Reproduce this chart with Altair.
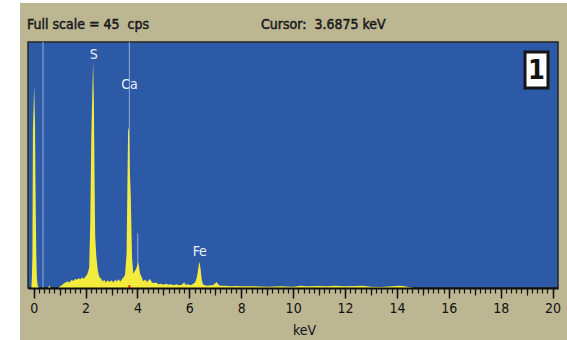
import altair as alt
import pandas as pd

# ---- data ----
energy = [-0.22, -0.09, -0.07, -0.05, -0.03, 0.0, 0.02, 0.05, 0.07, 0.1, 0.12, 0.15, 0.2,
          0.55, 0.6, 0.65, 0.95, 1.02, 1.08, 1.15, 1.22, 1.3, 1.38, 1.46, 1.53, 1.6, 1.66,
          1.73, 1.8, 1.86, 1.93, 2.0, 2.05, 2.1, 2.14, 2.18, 2.22, 2.26, 2.29, 2.32, 2.35,
          2.37, 2.41, 2.47, 2.53, 2.6, 2.66, 2.72, 2.78, 2.85, 2.92, 3.0, 3.07, 3.14, 3.2,
          3.27, 3.34, 3.4, 3.46, 3.52, 3.58, 3.62, 3.64, 3.67, 3.7, 3.74, 3.79, 3.84, 3.91,
          3.97, 4.03, 4.1, 4.16, 4.22, 4.3, 4.38, 4.45, 4.5, 4.56, 4.63, 4.72, 4.8, 4.9,
          5.0, 5.1, 5.2, 5.3, 5.4, 5.5, 5.6, 5.7, 5.8, 5.86, 5.95, 6.05, 6.15, 6.22, 6.28,
          6.32, 6.36, 6.39, 6.43, 6.47, 6.52, 6.6, 6.7, 6.8, 6.9, 6.98, 7.05, 7.12, 7.2,
          7.4, 7.6, 7.8, 8.0, 8.5, 9.0, 9.5, 10.0, 10.3, 10.5, 11.0, 11.3, 11.6, 12.0,
          12.4, 12.7, 13.0, 13.4, 13.8, 14.1, 14.3, 14.5, 14.7, 20.21]
counts = [0, 0, 2, 6, 29, 34, 37, 30, 18, 6, 2, 0.5, 0,
          0, 0.5, 0, 0, 0.3, 0.5, 0.8, 1.0, 1.2, 1.0, 1.5, 1.3, 1.7, 1.5,
          1.8, 1.6, 1.9, 1.7, 2.1, 2.4, 3.0, 3.8, 12, 27.6, 36, 41.5, 34, 18,
          9.5, 6, 3.2, 2.0, 1.7, 1.2, 1.5, 1.0, 1.4, 1.1, 1.4, 1.0, 1.5, 1.2,
          1.6, 1.2, 1.6, 1.9, 2.4, 6.2, 22, 29.4, 28.8, 22, 17, 5.6, 2.6, 3.2,
          3.8, 4.7, 2.6, 2.0, 1.3, 1.5, 1.1, 1.6, 1.5, 1.0, 0.9, 1.0, 0.7, 0.8,
          0.6, 0.8, 0.6, 0.7, 0.5, 0.7, 0.5, 0.6, 1.0, 0.6, 0.7, 0.5, 0.8, 1.0, 1.8,
          2.8, 4.2, 4.8, 3.6, 1.8, 0.7, 0.5, 0.4, 0.5, 0.5, 0.8, 1.1, 0.6, 0.4,
          0.4, 0.3, 0.35, 0.3, 0.3, 0.25, 0.3, 0.25, 0.4, 0.3, 0.35, 0.3, 0.4, 0.3,
          0.35, 0.4, 0.25, 0.2, 0.3, 0.4, 0.3, 0.15, 0, 0]

marker_full = [0.36, 3.6875]
kb_marker_e = [4.01]
kb_marker_top = [10.0]
cursor_e = [3.6875]

elements = ["S", "Ca", "Fe"]
elem_e = [2.31, 3.69, 6.40]
elem_y = [42.7, 37.2, 6.55]

major_ticks = list(range(0, 21, 2))
odd_ticks = list(range(1, 20, 2))
minor_ticks = [round(0.2 * i, 1) for i in range(101)]

header_left = "Full scale = 45\u00a0\u00a0cps"
header_right = "Cursor:\u00a0\u00a03.6875 keV"
panel_no = "1"

# ---- styling ----
BEIGE = "#BCB693"
BLUE = "#2D5AA7"
YELLOW = "#F4EC3C"
FONT = "DejaVu Sans Condensed, Liberation Sans, sans-serif"
W, H = 530, 246

xscale = alt.Scale(domain=[-0.22, 20.21], nice=False, zero=False)
yscale = alt.Scale(domain=[0, 45], nice=False, zero=False)
one = pd.DataFrame({"a": [0]})

bg = alt.Chart(one).mark_rect(color=BEIGE).encode(
    x=alt.value(-8), x2=alt.value(539), y=alt.value(-39), y2=alt.value(298))
plotbg = alt.Chart(one).mark_rect(color=BLUE, stroke="#262626", strokeWidth=1.5).encode(
    x=alt.value(0), x2=alt.value(W), y=alt.value(0), y2=alt.value(H))

markers = alt.Chart(pd.DataFrame({"e": marker_full})).mark_rule(
    color="#93A9D6", strokeWidth=1).encode(
    x=alt.X("e:Q", scale=xscale, axis=None), y=alt.value(0), y2=alt.value(H))

kb = alt.Chart(pd.DataFrame({"e": kb_marker_e, "t": kb_marker_top})).mark_rule(
    color="#93A9D6", strokeWidth=1).encode(
    x=alt.X("e:Q", scale=xscale, axis=None),
    y=alt.Y("t:Q", scale=yscale, axis=None), y2=alt.value(H))

spec = alt.Chart(pd.DataFrame({"e": energy, "c": counts})).mark_area(
    color=YELLOW, clip=True, interpolate="linear").encode(
    x=alt.X("e:Q", scale=xscale, title="keV",
            axis=alt.Axis(orient="bottom", values=major_ticks, tickSize=10, tickWidth=1.5,
                          tickColor="#111", domainColor="#111", domainWidth=2,
                          labelFont=FONT, labelFontSize=14, labelColor="#111",
                          labelPadding=3, labelFlush=False, grid=False, zindex=2,
                          titleFont=FONT, titleFontSize=14, titleFontWeight="normal",
                          titleColor="#111", titleX=276, titleY=42,
                          titleBaseline="middle")),
    y=alt.Y("c:Q", scale=yscale, axis=None))

cursor = alt.Chart(pd.DataFrame({"e": cursor_e})).mark_rule(
    color="#E03020", strokeWidth=2).encode(
    x=alt.X("e:Q", scale=xscale, axis=None), y=alt.value(H - 3), y2=alt.value(H))

labels = alt.Chart(pd.DataFrame({"e": elem_e, "y": elem_y, "t": elements})).mark_text(
    color="#EDF0F8", font=FONT, fontSize=14, align="center", baseline="middle").encode(
    x=alt.X("e:Q", scale=xscale, axis=None),
    y=alt.Y("y:Q", scale=yscale, axis=None), text="t:N")

minor_ax = alt.Chart(pd.DataFrame({"e": [0.0]})).mark_point(opacity=0).encode(
    x=alt.X("e:Q", scale=xscale, title="",
            axis=alt.Axis(orient="bottom", values=minor_ticks, tickSize=5, tickWidth=1.2,
                          tickColor="#111", labels=False, domain=False, grid=False,
                          zindex=1)))
odd_ax = alt.Chart(pd.DataFrame({"e": [0.0]})).mark_point(opacity=0).encode(
    x=alt.X("e:Q", scale=xscale, title="",
            axis=alt.Axis(orient="bottom", values=odd_ticks, tickSize=7, tickWidth=1.2,
                          tickColor="#111", labels=False, domain=False, grid=False,
                          zindex=1)))

box = alt.Chart(one).mark_rect(fill="white", stroke="#151515", strokeWidth=3).encode(
    x=alt.value(497), x2=alt.value(520), y=alt.value(10), y2=alt.value(46))
box_t = alt.Chart(one).mark_text(text=panel_no, font=FONT, fontSize=27, fontWeight="bold",
                                 color="#111", align="center", baseline="middle").encode(
    x=alt.value(508.5), y=alt.value(29))

h1 = alt.Chart(one).mark_text(text=header_left, font=FONT, fontSize=14,
                              color="#1a1a1a", stroke="#1a1a1a", strokeWidth=0.5,
                              align="left", baseline="middle").encode(
    x=alt.value(-1), y=alt.value(-17))
h2 = alt.Chart(one).mark_text(text=header_right, font=FONT, fontSize=14,
                              color="#1a1a1a", stroke="#1a1a1a", strokeWidth=0.5,
                              align="left", baseline="middle").encode(
    x=alt.value(233), y=alt.value(-17))

chart = alt.layer(bg, plotbg, markers, kb, spec, cursor, labels, minor_ax, odd_ax,
                  box, box_t, h1, h2).resolve_axis(x="independent").properties(
    width=W, height=H,
    padding={"left": 28, "top": 42, "right": 9, "bottom": 52},
    autosize=alt.AutoSizeParams(type="none"),
    background="white",
).configure_view(stroke=None)

chart.save("out.html", embed_options={"renderer": "svg", "actions": False})
